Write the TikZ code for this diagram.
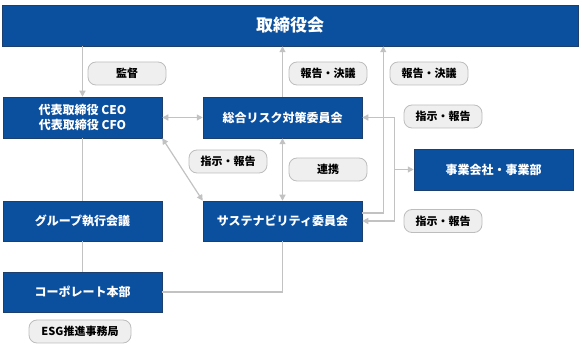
\documentclass[tikz,border=0pt]{standalone}
\usepackage{fontspec}
\setmainfont{Noto Sans CJK JP}
\usetikzlibrary{arrows.meta, calc, positioning}
\definecolor{orgBlue}{HTML}{0B4F9F}
\definecolor{orgEdge}{HTML}{1D3F6E}
\definecolor{orgLine}{HTML}{C2C2C2}
\definecolor{pillFill}{HTML}{EFEFEF}
\definecolor{pillEdge}{HTML}{BDBDBD}
\tikzset{
  orgbox/.style   = {draw=orgEdge, line width=0.5pt, fill=orgBlue, text=white,
                     minimum width=159pt, minimum height=40pt, inner sep=0pt,
                     font=\bfseries\fontsize{12}{15}\selectfont, align=center},
  pill/.style     = {draw=pillEdge, line width=0.8pt, fill=pillFill, rounded corners=8pt,
                     minimum width=78pt, minimum height=23pt, inner sep=0pt,
                     font=\bfseries\fontsize{11}{12}\selectfont},
  conn/.style     = {orgLine, line width=1.2pt},
  arr/.style      = {conn, -{Triangle[length=6pt, width=6pt]}},
  biarr/.style    = {conn, {Triangle[length=6pt, width=6pt]}-{Triangle[length=6pt, width=6pt]}},
}
\begin{document}
\begin{tikzpicture}[x=1pt, y=-1pt]
  \useasboundingbox (0,0) rectangle (582,350);

  % boxes
  \node[orgbox, minimum width=576pt, minimum height=41pt,
        font=\bfseries\fontsize{17}{20}\selectfont] (board) at (290,25.5) {取締役会};
  \node[orgbox, minimum height=41pt] (ceo)  at (82.5,117.5) {代表取締役 CEO\\代表取締役 CFO};
  \node[orgbox, minimum height=41pt] (risk) at (282.5,117.5) {総合リスク対策委員会};
  \node[orgbox] (grp)  at (82.5,221)  {グループ執行会議};
  \node[orgbox] (sus)  at (282.5,221) {サステナビリティ委員会};
  \node[orgbox] (corp) at (82.5,292)  {コーポレート本部};
  \node[orgbox, minimum height=41pt] (biz)  at (493.5,169.5) {事業会社・事業部};

  % labels
  \node[pill] (kantoku) at (127,73.5)   {監督};
  \node[pill] (hk1)     at (328,73.5)   {報告・決議};
  \node[pill] (hk2)     at (429,73.5)   {報告・決議};
  \node[pill] (sh1)     at (443,116.5)  {指示・報告};
  \node[pill] (sh2)     at (228,161.5)  {指示・報告};
  \node[pill] (renkei)  at (328,169.5)  {連携};
  \node[pill] (sh3)     at (443,221)    {指示・報告};
  \node[pill, minimum width=102pt] (esg) at (80,331.5) {ESG推進事務局};

  % left column
  \draw[arr] (board.south -| ceo.north) -- (ceo.north);
  \draw[conn] (ceo.south) -- (grp.north);
  \draw[conn] (grp.south) -- (corp.north);
  \draw[conn] (corp.east) -- (corp.east -| sus.south) -- (sus.south);

  % CEO links
  \draw[biarr] (ceo.south east) -- (sus.north west);
  \draw[biarr] (ceo.east) -- (risk.west);

  % committees
  \draw[biarr] (risk.south) -- (sus.north);
  \draw[arr] (risk.north) -- (risk.north |- board.south);

  % report up to board
  \coordinate (up) at ([yshift=8pt]sus.east);
  \coordinate (upturn) at ([xshift=21pt]up);
  \draw[arr] (up) -- (upturn) -- (upturn |- board.south);

  % instructions to committees and business units
  \coordinate (br) at ([xshift=32pt]risk.east);
  \draw[arr] (br) -- (risk.east);
  \draw[arr] (br) -- (br |- sus.east) -- (sus.east);
  \draw[arr] (br |- biz.west) -- (biz.west);
\end{tikzpicture}
\end{document}
